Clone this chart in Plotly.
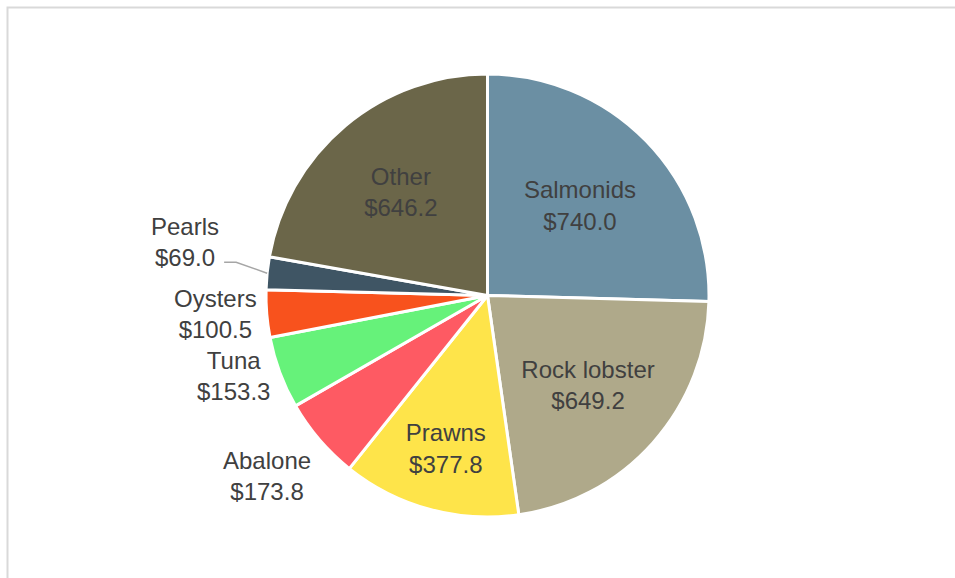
import math
import plotly.graph_objects as go

labels = ["Salmonids", "Rock lobster", "Prawns", "Abalone", "Tuna", "Oysters", "Pearls", "Other"]
values = [740.0, 649.2, 377.8, 173.8, 153.3, 100.5, 69.0, 646.2]
colors = ["#6b8fa3", "#afa98a", "#fee44a", "#fe5a63", "#66f27a", "#f8521d", "#3f5564", "#6b6649"]
inside = [True, True, True, False, False, False, False, True]

W, H = 955, 578
# pie box in pixels
LEFT, RIGHT, TOP, BOTTOM = 266, 709, 74, 517
CX, CY = (LEFT + RIGHT) / 2, (TOP + BOTTOM) / 2
R = (RIGHT - LEFT) / 2
FONT = "Liberation Sans, Arial, sans-serif"
TXT = "#404040"
FS = 24

texts = [f"{l}<br>${v:.1f}" if ins else "" for l, v, ins in zip(labels, values, inside)]

fig = go.Figure(go.Pie(
    labels=labels,
    values=values,
    sort=False,
    direction="clockwise",
    rotation=0,
    marker=dict(colors=colors, line=dict(color="white", width=3)),
    text=texts,
    textinfo="text",
    textposition="inside",
    insidetextorientation="horizontal",
    textfont=dict(family=FONT, size=FS, color=TXT),
    hoverinfo="label+value",
    showlegend=False,
    domain=dict(x=[LEFT / W, RIGHT / W], y=[1 - BOTTOM / H, 1 - TOP / H]),
))


def px(x):
    return x / W


def py(y):
    return 1 - y / H


total = sum(values)
cum = 0.0
annotations = []
shapes = []
gap = 8
for lab, v, ins in zip(labels, values, inside):
    theta = 2 * math.pi * (cum + v / 2) / total
    cum += v
    if ins:
        continue
    dx, dy = math.sin(theta), -math.cos(theta)
    text = f"{lab}<br>${v:.1f}"
    if v / total < 0.03:
        ex, ey = CX + dx * R, CY + dy * R
        path = f"M {px(ex)},{py(ey)} L {px(ex - 31)},{py(ey - 11)} L {px(ex - 43)},{py(ey - 11)}"
        shapes.append(dict(type="path", xref="paper", yref="paper", path=path,
                           line=dict(color="#a6a6a6", width=1.5)))
        annotations.append(dict(x=px(ex - 46), y=py(ey - 31), xref="paper", yref="paper",
                                text=text, showarrow=False, xanchor="right", yanchor="middle",
                                align="center", font=dict(family=FONT, size=FS, color=TXT)))
        continue
    ox, oy = CX + dx * (R + gap), CY + dy * (R + gap)
    xa = "right" if dx < 0 else "left"
    ya = "top" if dy > 0.5 else ("bottom" if dy < -0.5 else "middle")
    annotations.append(dict(x=px(ox), y=py(oy), xref="paper", yref="paper",
                            text=text, showarrow=False, xanchor=xa, yanchor=ya,
                            align="center", font=dict(family=FONT, size=FS, color=TXT)))

shapes.append(dict(type="rect", xref="paper", yref="paper",
                   x0=px(7.5), x1=1.05, y0=-0.05, y1=py(7.5),
                   line=dict(color="#d9d9d9", width=2), fillcolor="rgba(0,0,0,0)"))

fig.update_layout(
    width=W, height=H,
    margin=dict(l=0, r=0, t=0, b=0),
    paper_bgcolor="white",
    plot_bgcolor="white",
    annotations=annotations,
    shapes=shapes,
)
fig.write_html("out.html", config={"displayModeBar": False},
               post_script="document.body.style.margin='0px';")
